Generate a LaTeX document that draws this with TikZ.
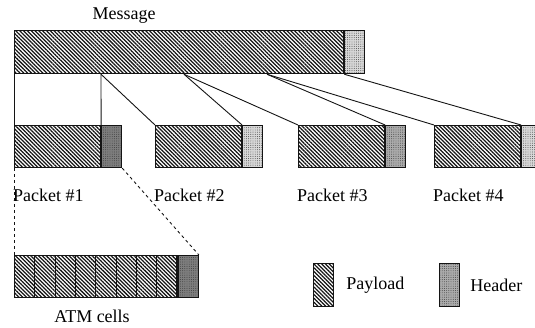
\documentclass[tikz,border=0pt]{standalone}
\usepackage{fontspec}
\setmainfont{Liberation Serif}
\usepackage{tikz}
\usetikzlibrary{positioning, patterns.meta, calc}
\definecolor{cellink}{HTML}{141414}
\definecolor{cellstip}{HTML}{D8D8D8}
\definecolor{cellstipmid}{HTML}{ABABAB}
\definecolor{cellstipdark}{HTML}{7E7E7E}

\tikzset{
  payload/.style={draw=cellink, line width=1.1pt, inner sep=0pt, anchor=north west,
    pattern={Lines[angle=-45, distance=2.7pt, line width=1.25pt]}, pattern color=cellink},
  header/.style={draw=cellink, line width=1.1pt, inner sep=0pt, anchor=north west,
    preaction={fill=cellstip}, pattern={Dots[distance=2.2pt, radius=0.45pt]}, pattern color=cellink!85},
  midheader/.style={header, preaction={fill=cellstipmid}},
  darkheader/.style={header, preaction={fill=cellstipdark}},
  wire/.style={draw=cellink, line width=0.9pt},
  lbl/.style={inner sep=0pt}
}

\begin{document}
\begin{tikzpicture}[x=1pt, y=-1pt, font=\fontsize{18}{21}\selectfont]
\clip (0,0) rectangle (535,328);
% message
\node[payload, minimum width=329pt, minimum height=43pt] (msg) at (14,30) {};
\node[header, minimum width=20pt, minimum height=43pt] (msgh) at (msg.north east) {};
\node[lbl] (msglbl) at (124,16) {Message};
% packets
\foreach \n/\x/\s in {1/14/darkheader, 2/155/header, 3/298/midheader, 4/434/header} {
  \node[payload, minimum width=86pt, minimum height=42pt] (p\n) at (\x,125) {};
  \node[\s, minimum width=20pt, minimum height=42pt] (h\n) at (p\n.north east) {};
  \node[lbl, anchor=west] (pl\n) at ($(p\n.south west)+(-1,27)$) {Packet \#\n};
}
% cuts along the message
\coordinate (cut1) at ($(msg.south west)+(87,0)$);
\coordinate (cut2) at ($(msg.south west)+(170,0)$);
\coordinate (cut3) at ($(msg.south west)+(253,0)$);
\draw[wire] (msg.south west) -- (p1.north west);
\draw[wire] (cut1) -- (h1.north west);
\draw[wire] (cut1) -- (p2.north west);
\draw[wire] (cut2) -- (h2.north west);
\draw[wire] (cut2) -- (p3.north west);
\draw[wire] (cut3) -- (h3.north west);
\draw[wire] (cut3) -- (p4.north west);
\draw[wire] (msg.south east) -- (h4.north west);
% ATM cells
\foreach \i in {0,...,7} {
  \node[payload, minimum width=20.3pt, minimum height=42pt] (c\i) at (14+20.3*\i,255) {};
}
\node[darkheader, minimum width=20.3pt, minimum height=42pt] (c8) at (c7.north east) {};
\node[lbl] (atmlbl) at (92,316) {ATM cells};
\draw[wire, dash pattern=on 3pt off 3pt] (p1.south west) -- (c0.north west);
\draw[wire, dash pattern=on 3pt off 3pt] (h1.south east) -- (c8.north east);
% legend
\node[payload, minimum width=20pt, minimum height=43pt] (legp) at (313,263) {};
\node[lbl, anchor=west] (leglp) at ($(legp.east)+(12,0)$) {Payload};
\node[midheader, minimum width=20pt, minimum height=43pt] (legh) at (439,263) {};
\node[lbl, anchor=west] (leglh) at ($(legh.east)+(10,0)$) {Header};
\end{tikzpicture}
\end{document}
